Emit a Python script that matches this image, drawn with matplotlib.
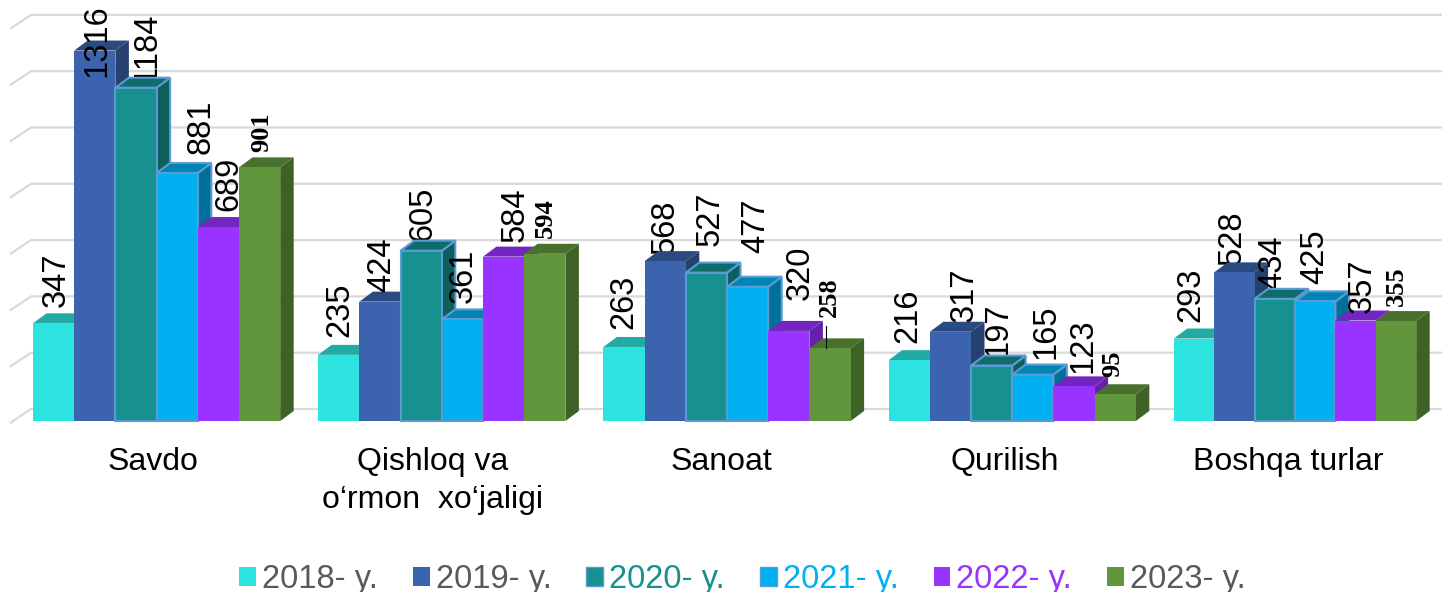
import matplotlib
matplotlib.use('Agg')
import matplotlib.pyplot as plt
from matplotlib.patches import Patch

categories = ['Savdo', 'Qishloq va\no\u2018rmon  xo\u2018jaligi', 'Sanoat', 'Qurilish', 'Boshqa turlar']
years = ['2018- y.', '2019- y.', '2020- y.', '2021- y.', '2022- y.', '2023- y.']
y2018 = [347, 235, 263, 216, 293]
y2019 = [1316, 424, 568, 317, 528]
y2020 = [1184, 605, 527, 197, 434]
y2021 = [881, 361, 477, 165, 425]
y2022 = [689, 584, 320, 123, 357]
y2023 = [901, 594, 258, 95, 355]
series = [y2018, y2019, y2020, y2021, y2022, y2023]

front = ['#2CE3DF', '#3C64AE', '#16918F', '#00B0F0', '#9933FF', '#62963C']
top = ['#22AAA5', '#2C4A82', '#106C6A', '#0084B4', '#7226BF', '#4A702D']
side = ['#1E9A96', '#26406F', '#0E5E5C', '#00709A', '#6621AA', '#3E6125']
edge = [None, None, '#5B9BD5', '#5B9BD5', None, None]
legend_txt = ['#595959', '#595959', '#16918F', '#00B0F0', '#9933FF', '#595959']

# pixel sizes of the picture, everything else goes through the axes scale
PX_GROUP = 285.2
PX_VAL = 0.2815
px_bar = [41.2, 41.2, 41.2, 41.2, 40.4]
dx = 13.5 / PX_GROUP
dy = 10 / PX_VAL
wall_dy = 14 / PX_VAL

# label offset from the centre of the bar top, in pixels: (right, up)
offs = [
    [(3, 16), (2.5, -26.5), (11.5, 4.7), (24.2, 19), (10.5, 16), (2, 15.4)],
    [(1.5, 18), (2, 9.6), (1.5, 10), (0.5, 16), (11.5, 14.6), (0.5, 16)],
    [(0, 18), (-0.5, 7), (3.5, 26.6), (8.5, 33.7), (11.2, 31), (-0.5, 31.4)],
    [(-1.5, 17), (13.5, 10), (6.5, 8.5), (13, 15.6), (8.5, 13), (-2.5, 17)],
    [(-3.5, 16.5), (-2.5, 7), (-2, 9), (-0.5, 17), (6.5, 7.5), (0.5, 15)],
]
# labels that get cut by their own bar in the picture: (group, series)
behind = [(0, 2), (0, 4), (1, 2), (2, 1), (3, 1), (3, 2), (3, 3), (4, 1), (4, 2)]
cat_px = [153, 433, 721, 1005, 1288]
serif_series = 5


def px_x(px):
    return (px - 156.6) / PX_GROUP


def px_y(px):
    return (421 - px) / PX_VAL


plt.rcParams['font.family'] = ['Liberation Sans', 'DejaVu Sans']
fig = plt.figure(figsize=(14.42, 5.92), dpi=100)
ax = fig.add_axes([0, 0, 1, 1])
ax.set_xlim(px_x(0), px_x(1442))
ax.set_ylim(px_y(592), px_y(0))
ax.axis('off')

# gridlines with the slanted part on the left wall
for v in range(0, 1401, 200):
    ax.plot([px_x(10), px_x(31), px_x(1442)],
            [v - 2 / PX_VAL, v - 2 / PX_VAL + wall_dy, v - 2 / PX_VAL + wall_dy],
            color='#D9D9D9', lw=1.6, zorder=1, solid_capstyle='butt')

for i in range(len(categories)):
    bw = px_bar[i] / PX_GROUP
    left = i - 3 * 41.2 / PX_GROUP
    for j, vals in enumerate(series):
        v = vals[i]
        x0 = left + j * bw
        x1 = x0 + bw
        z = 3 + j * 0.1
        lc = edge[j] if edge[j] else 'none'
        lw = 1.5 if edge[j] else 0
        ax.fill([x1, x1 + dx, x1 + dx, x1], [0, dy, v + dy, v], color=side[j], ec=lc, lw=lw, zorder=z)
        ax.fill([x0, x0 + dx, x1 + dx, x1], [v, v + dy, v + dy, v], color=top[j], ec=lc, lw=lw, zorder=z)
        ax.bar(x0, v, bw, align='edge', color=front[j], ec=lc, lw=lw, zorder=z + 0.01)

        ox, oy = offs[i][j]
        if j == serif_series:
            ax.annotate(str(v), (x0 + bw / 2, v), xytext=(ox, oy), textcoords='offset pixels',
                        rotation=90, ha='center', va='bottom', fontsize=19,
                        family='Liberation Serif', weight='bold', color='black', zorder=6)
        else:
            lz = z - 0.05 if (i, j) in behind else 6
            ax.annotate(str(v), (x0 + bw / 2, v), xytext=(ox, oy), textcoords='offset pixels',
                        rotation=90, ha='center', va='bottom', fontsize=23.5,
                        color='black', zorder=lz)

# leader line of the 258 label
ax.plot([px_x(825.7), px_x(825.7)], [258, 258 + 22 / PX_VAL], color='black', lw=0.8, zorder=6)

for c, p in zip(categories, cat_px):
    ax.text(px_x(p), px_y(447), c, ha='center', va='top', fontsize=23,
            color='black', linespacing=1.36)

handles = []
for j in range(6):
    handles.append(Patch(facecolor=front[j], edgecolor=edge[j] if edge[j] else front[j],
                         linewidth=1 if edge[j] else 0, label=years[j]))
leg = ax.legend(handles=handles, ncols=6, loc='center', bbox_to_anchor=(0.5148, 0.0215),
                frameon=False, fontsize=23.5, handlelength=0.52, handleheight=0.52,
                handletextpad=0.18, columnspacing=1.07, borderpad=0, borderaxespad=0)
for t, c in zip(leg.get_texts(), legend_txt):
    t.set_color(c)

fig.savefig('out.png', dpi=100)
